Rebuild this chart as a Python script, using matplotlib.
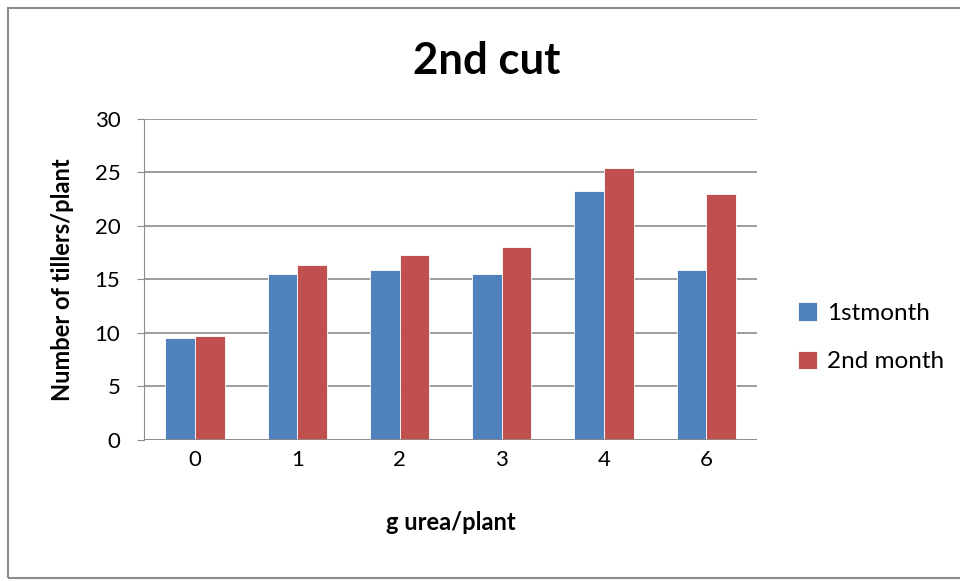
import numpy as np
import matplotlib.pyplot as plt
from matplotlib.patches import Rectangle

# tillers per plant for each urea dose
doses = ["0", "1", "2", "3", "4", "6"]
first_month = [9.5, 15.5, 15.9, 15.5, 23.3, 15.9]
second_month = [9.7, 16.4, 17.3, 18.0, 25.4, 23.0]

plt.rcParams['font.family'] = ['Lato', 'DejaVu Sans']

fig = plt.figure(figsize=(9.6, 5.81), dpi=100)
ax = fig.add_axes([0.15, 0.2427, 0.639, 0.5525])

x = np.arange(len(doses))
w = 0.29
ax.bar(x - w / 2, first_month, w, color="#4F81BD", edgecolor="white", linewidth=0.6, label="1stmonth", zorder=3)
ax.bar(x + w / 2, second_month, w, color="#C0504D", edgecolor="white", linewidth=0.6, label="2nd month", zorder=3)

ax.set_xlim(-0.5, len(doses) - 0.5)
ax.set_ylim(0, 30)
ax.set_yticks(range(0, 31, 5))
ax.set_xticks(x)
ax.set_xticklabels(doses)
ax.yaxis.grid(True, color="#8c8c8c", linewidth=1.2, zorder=0)
for s in ["top", "right", "bottom"]:
    ax.spines[s].set_visible(False)
ax.spines["left"].set_color("#8c8c8c")
ax.axhline(0, color="#8c8c8c", linewidth=1.2, zorder=4)
ax.tick_params(axis="y", length=5, color="#8c8c8c", labelsize=16, pad=12)
ax.tick_params(axis="x", length=0, labelsize=16, pad=7)

ax.set_xlabel("g urea/plant", fontsize=17, fontweight="bold", labelpad=30)
ax.set_ylabel("Number of tillers/plant", fontsize=17, fontweight="bold", labelpad=15)
fig.text(0.507, 0.895, "2nd cut", ha="center", va="center", fontsize=31.5, fontweight="bold")

ax.legend(loc="center left", bbox_to_anchor=(1.03, 0.32), frameon=False, fontsize=17.5,
          handlelength=0.8, handleheight=0.8, handletextpad=0.4, labelspacing=1.1)

# chart frame
fig.patches.append(Rectangle((8 / 960, 3 / 581), 1.2, 570 / 581, transform=fig.transFigure,
                             fill=False, edgecolor="#8c8c8c", linewidth=1.5))

fig.savefig("out.png", dpi=100)
